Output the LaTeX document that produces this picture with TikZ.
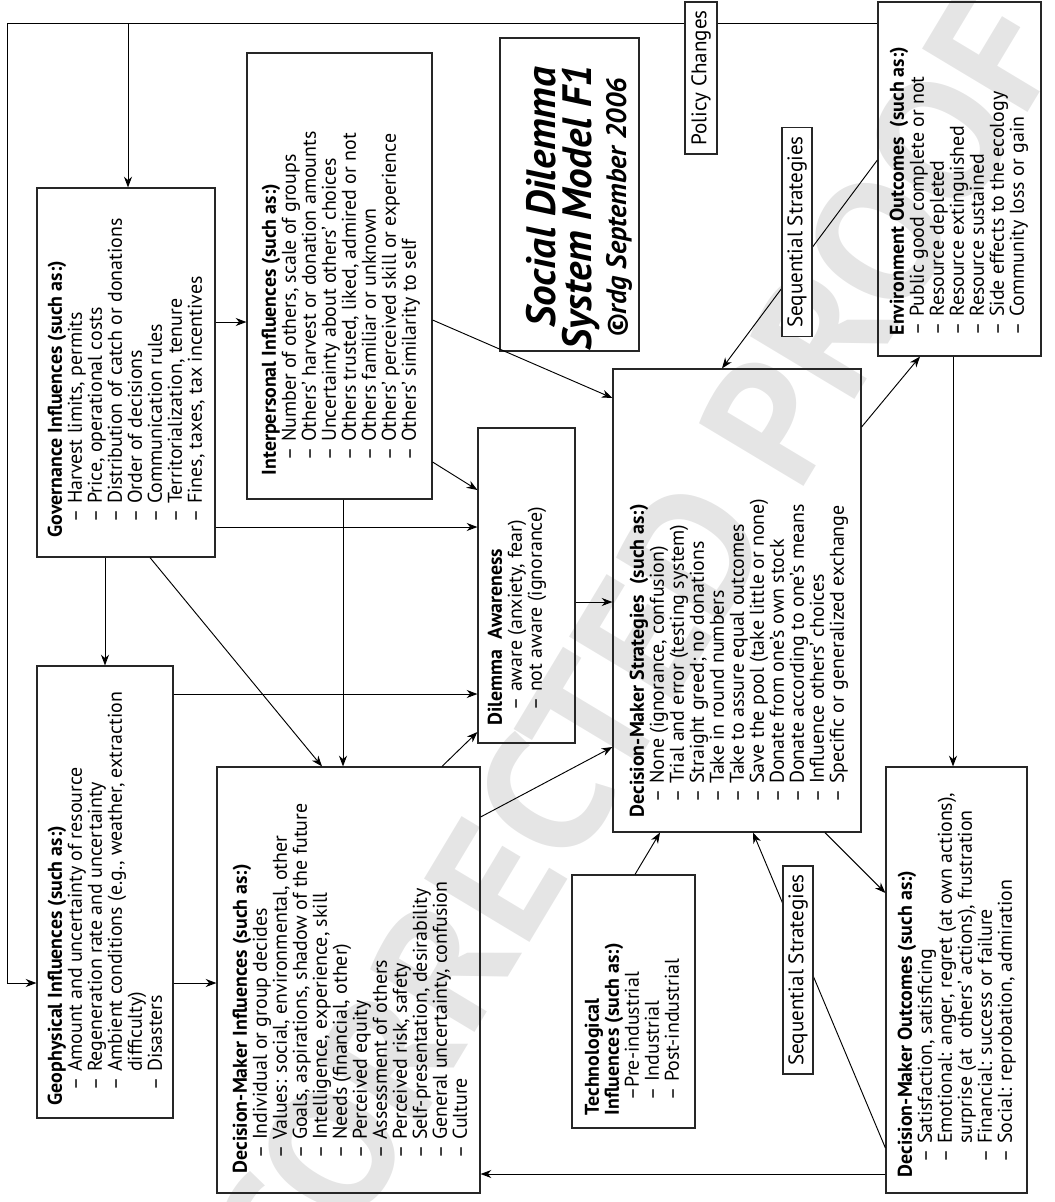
\documentclass[tikz,border=0pt]{standalone}
\usepackage{fontspec}
\setmainfont{PT Sans}
\usetikzlibrary{arrows.meta,fit}
\newcommand{\dind}{\hspace*{.75em}}
\newcommand{\dcont}{\hspace*{.75em}\phantom{– }}
\tikzset{
  box/.style={draw=black!85, line width=1pt, inner sep=0pt},
  txt/.style={rotate=90, anchor=north west, inner sep=0pt, align=left, font=\fontsize{17}{17.07}\selectfont},
  lbl/.style={draw=black!85, fill=white, line width=1pt, rotate=90, inner sep=0pt, font=\fontsize{18}{20}\selectfont},
  arr/.style={-{Stealth[length=3.2mm,width=2.4mm,inset=1mm]}, line width=.8pt},
  wmark/.style={rotate=59, text=black!10, font=\bfseries\fontsize{150}{150}\selectfont}
}
\begin{document}
\begin{tikzpicture}[x=0.3mm, y=-0.3mm]
\useasboundingbox (0,0) rectangle (1055,1202);
% watermark
\node[wmark] (wm) at (635,647) {CORRECTED PROOF};

% boxes
\node[box, fit={(37,188) (215,557)}] (gov) {};
\node[box, fit={(247,53) (432,499)}] (inter) {};
\node[box, fit={(500,38) (639,351)}] (title) {};
\node[box, fit={(878,2) (1041,356)}] (env) {};
\node[box, fit={(478,428) (575,743)}] (aware) {};
\node[box, fit={(613,369) (861,832)}] (strat) {};
\node[box, fit={(37,666) (173,1118)}] (geo) {};
\node[box, fit={(217,767) (480,1193)}] (dminf) {};
\node[box, fit={(572,875) (695,1128)}] (tech) {};
\node[box, fit={(886,767) (1027,1193)}] (out) {};

% texts
\node[txt] (govt) at ([shift={(11,-20)}]gov.south west) {\textbf{Governance Influences (such as:)}\\
  \dind– Harvest limits, permits\\
  \dind– Price, operational costs\\
  \dind– Distribution of catch or donations\\
  \dind– Order of decisions\\
  \dind– Communication rules\\
  \dind– Territorialization, tenure\\
  \dind– Fines, taxes, tax incentives};
\node[txt] (intert) at ([shift={(15,-24)}]inter.south west) {\textbf{Interpersonal Influences (such as:)}\\
  \dind– Number of others, scale of groups\\
  \dind– Others’ harvest or donation amounts\\
  \dind– Uncertainty about others’ choices\\
  \dind– Others trusted, liked, admired or not\\
  \dind– Others familiar or unknown\\
  \dind– Others’ perceived skill or experience\\
  \dind– Others’ similarity to self};
\node[txt] (awaret) at ([shift={(10,-18)}]aware.south west) {\textbf{Dilemma\ \ Awareness}\\
  \dind– aware (anxiety, fear)\\
  \dind– not aware (ignorance)};
\node[txt] (stratt) at ([shift={(17,-15)}]strat.south west) {\textbf{Decision-Maker Strategies\ \ (such as:)}\\
  \dind– None (ignorance, confusion)\\
  \dind– Trial and error (testing system)\\
  \dind– Straight greed; no donations\\
  \dind– Take in round numbers\\
  \dind– Take to assure equal outcomes\\
  \dind– Save the pool (take little or none)\\
  \dind– Donate from one’s own stock\\
  \dind– Donate according to one’s means\\
  \dind– Influence others’ choices\\
  \dind– Specific or generalized exchange};
\node[txt] (geot) at ([shift={(11,-13)}]geo.south west) {\textbf{Geophysical Influences (such as:)}\\
  \dind– Amount and uncertainty of resource\\
  \dind– Regeneration rate and uncertainty\\
  \dind– Ambient conditions (e.g., weather, extraction\\
  \dcont difficulty)\\
  \dind– Disasters};
\node[txt] (dminft) at ([shift={(16,-20)}]dminf.south west) {\textbf{Decision-Maker Influences (such as:)}\\
  \dind– Individual or group decides\\
  \dind– Values: social, environmental, other\\
  \dind– Goals, aspirations, shadow of the future\\
  \dind– Intelligence, experience, skill\\
  \dind– Needs (financial, other)\\
  \dind– Perceived equity\\
  \dind– Assessment of others\\
  \dind– Perceived risk, safety\\
  \dind– Self-presentation, desirability\\
  \dind– General uncertainty, confusion\\
  \dind– Culture};
\node[txt] (envt) at ([shift={(12,-21)}]env.south west) {\textbf{Environment Outcomes\ \ (such as:)}\\
  – Public good complete or not\\
  – Resource depleted\\
  – Resource extinguished\\
  – Resource sustained\\
  – Side effects to the ecology\\
  – Community loss or gain};
\node[txt] (outt) at ([shift={(12,-16)}]out.south west) {\textbf{Decision-Maker Outcomes (such as:)}\\
  \dind– Satisfaction, satisficing\\
  \dind– Emotional: anger, regret (at own actions),\\
  \dcont surprise (at\ \ others’ actions), frustration\\
  \dind– Financial: success or failure\\
  \dind– Social: reprobation, admiration};
\node[txt] (techt) at ([shift={(13,-13)}]tech.south west) {\textbf{Technological}\\
  \textbf{Influences (such as:)}\\
  \dind–Pre-industrial\\
  \dind– Industrial\\
  \dind– Post-industrial};

% title
\node[rotate=90, anchor=base east, inner sep=0pt, font=\bfseries\itshape\fontsize{35}{36}\selectfont] (t1) at (555,67) {Social Dilemma};
\node[rotate=90, anchor=base east, inner sep=0pt, font=\bfseries\itshape\fontsize{35}{36}\selectfont] (t2) at (591,65) {System Model F1};
\node[rotate=90, anchor=base east, inner sep=0pt, font=\bfseries\itshape\fontsize{24}{26}\selectfont] (t3) at (626,78) {©rdg September 2006};

% connectors
\coordinate (loop) at (7,983);
\coordinate (branch) at (128,23);
\draw[arr] (env.west |- branch) -| (loop) -- (geo.west |- loop);
\draw[arr] (branch) -- (gov.north -| branch);
\draw[arr] (gov.east |- 0,322) -- (inter.west |- 0,322);
\draw[arr] (gov.east |- 0,527) -- (aware.west |- 0,527);
\draw[arr] (gov.south -| 105,0) -- (geo.north -| 105,0);
\draw[arr] (gov.south -| 150,0) -- (dminf.north -| 322,0);
\draw[arr] (inter.south -| 343,0) -- (dminf.north -| 343,0);
\draw[arr] (inter.east |- 0,462) -- (aware.west |- 0,490);
\draw[arr] (inter.east |- 0,320) -- (strat.west |- 0,398);
\draw[arr] (geo.east |- 0,694) -- (aware.west |- 0,694);
\draw[arr] (geo.east |- loop) -- (dminf.west |- loop);
\draw[arr] (dminf.north -| 442,0) -- (aware.west |- 0,732);
\draw[arr] (dminf.east |- 0,817) -- (strat.west |- 0,747);
\draw[arr] (aware.east |- 0,602) -- (strat.west |- 0,602);
\draw[arr] (tech.north -| 635,0) -- (strat.south -| 660,0);
\draw[arr] (strat.east |- 0,427) -- (env.south -| 920,0);
\draw[arr] (strat.south -| 825,0) -- (out.west |- 0,893);
\draw[arr] (out.west |- 0,1148) -- (strat.south -| 753,0);
\draw[arr] (env.west |- 0,160) -- (strat.north -| 722,0);
\draw[arr] (env.south -| 953,0) -- (out.north -| 953,0);
\draw[arr] (out.west |- 0,1174) -- (dminf.east |- 0,1174);

% labels on the lines
\node[lbl, minimum width=45.6mm, minimum height=9.6mm] (policy) at (701,78) {Policy Changes};
\node[lbl, minimum width=62.7mm, minimum height=9mm] (seqa) at (797,232) {Sequential Strategies};
\node[lbl, minimum width=62.4mm, minimum height=9mm] (seqb) at (798,970) {Sequential Strategies};
\end{tikzpicture}
\end{document}
